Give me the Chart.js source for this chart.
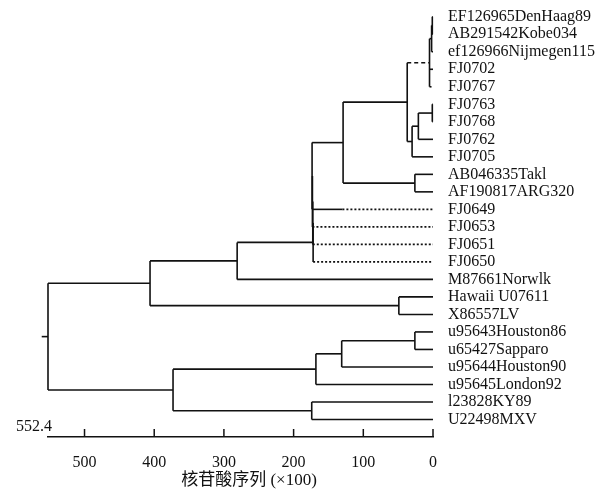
<!DOCTYPE html>
<html>
<head>
<meta charset="utf-8">
<script src="https://cdn.jsdelivr.net/npm/chart.js@4.4.0/dist/chart.umd.min.js"></script>
<style>
  html, body { margin: 0; padding: 0; background: #fff; }
  #wrap { width: 603px; height: 494px; }
</style>
</head>
<body>
<div id="wrap"><canvas id="tree"></canvas></div>
<script>
// leaf order, top to bottom
var leaves = [
  'EF126965DenHaag89', 'AB291542Kobe034', 'ef126966Nijmegen115', 'FJ0702', 'FJ0767',
  'FJ0763', 'FJ0768', 'FJ0762', 'FJ0705', 'AB046335Takl', 'AF190817ARG320',
  'FJ0649', 'FJ0653', 'FJ0651', 'FJ0650', 'M87661Norwlk', 'Hawaii U07611', 'X86557LV',
  'u95643Houston86', 'u65427Sapparo', 'u95644Houston90', 'u95645London92',
  'l23828KY89', 'U22498MXV'
];

// internal nodes: [name, distance (x100 nt), children]  (children listed before parents)
var nodes = [
  ['nA', 1, ['EF126965DenHaag89', 'AB291542Kobe034']],
  ['nB', 2, ['nA', 'ef126966Nijmegen115']],
  ['nC', 5, ['nB', 'FJ0702', 'FJ0767']],
  ['nD', 1, ['FJ0763', 'FJ0768']],
  ['nE', 21, ['nD', 'FJ0762']],
  ['nF', 30, ['nE', 'FJ0705']],
  ['nG', 37, ['nC', 'nF']],
  ['nH', 26, ['AB046335Takl', 'AF190817ARG320']],
  ['nI', 129, ['nG', 'nH']],
  ['nJ', 173.5, ['nI', 'FJ0649']],
  ['nK', 173, ['nJ', 'FJ0653']],
  ['nL', 172.5, ['nK', 'FJ0651']],
  ['nM', 172, ['nL', 'FJ0650']],
  ['nN', 281, ['nM', 'M87661Norwlk']],
  ['nO', 49, ['Hawaii U07611', 'X86557LV']],
  ['nP', 406, ['nN', 'nO']],
  ['nQ', 26, ['u95643Houston86', 'u65427Sapparo']],
  ['nR', 131, ['nQ', 'u95644Houston90']],
  ['nS', 168, ['nR', 'u95645London92']],
  ['nT', 174, ['l23828KY89', 'U22498MXV']],
  ['nU', 373, ['nS', 'nT']],
  ['root', 552.4, ['nP', 'nU']]
];

var dottedBranches = ['FJ0649', 'FJ0653', 'FJ0651', 'FJ0650', 'FJ0767'];
var dashedBranches = ['nC'];
var solidUntil = { 'FJ0649': 130 };   // FJ0649: solid first, then dotted

var xTicks = [0, 100, 200, 300, 400, 500];
var maxDist = 552.4;
var axisTitle = '\u3000核苷酸序列 (×100)';

// lay out the tree
var yOf = {}, dOf = {};
leaves.forEach(function(n, i) { yOf[n] = i; dOf[n] = 0; });
nodes.forEach(function(nd) {
  var ch = nd[2];
  dOf[nd[0]] = nd[1];
  yOf[nd[0]] = (yOf[ch[0]] + yOf[ch[ch.length - 1]]) / 2;
});

var datasets = [];
function seg(x1, y1, x2, y2, style) {
  var dash = [];
  if (style === 'dot') dash = [2, 2];
  if (style === 'dash') dash = [4, 3];
  datasets.push({
    data: [{ x: x1, y: y1 }, { x: x2, y: y2 }],
    showLine: true,
    borderColor: '#111',
    borderWidth: 1.6,
    borderDash: dash,
    pointRadius: 0,
    clip: false
  });
}

nodes.forEach(function(nd) {
  var d = nd[1], ch = nd[2];
  seg(d, yOf[ch[0]], d, yOf[ch[ch.length - 1]], 'solid');
  ch.forEach(function(c) {
    var style = 'solid';
    if (dottedBranches.indexOf(c) >= 0) style = 'dot';
    if (dashedBranches.indexOf(c) >= 0) style = 'dash';
    if (solidUntil[c] !== undefined) {
      seg(d, yOf[c], solidUntil[c], yOf[c], 'solid');
      seg(solidUntil[c], yOf[c], dOf[c], yOf[c], style);
    } else {
      seg(d, yOf[c], dOf[c], yOf[c], style);
    }
  });
});
// little stub on the root
seg(maxDist, yOf['root'], maxDist + 9, yOf['root'], 'solid');

// ticks pointing up into the plot, and the 552.4 label
var axisExtras = {
  id: 'axisExtras',
  afterDraw: function(chart) {
    var ctx = chart.ctx, xs = chart.scales.x, bottom = chart.chartArea.bottom;
    ctx.save();
    ctx.strokeStyle = '#111';
    ctx.lineWidth = 1.5;
    xTicks.forEach(function(v) {
      var px = xs.getPixelForValue(v);
      ctx.beginPath();
      ctx.moveTo(px, bottom);
      ctx.lineTo(px, bottom - 8);
      ctx.stroke();
    });
    ctx.fillStyle = '#111';
    ctx.font = '16px "Liberation Serif"';
    ctx.textAlign = 'center';
    ctx.textBaseline = 'middle';
    ctx.fillText(String(maxDist), xs.getPixelForValue(maxDist) - 14, bottom - 10);
    ctx.restore();
  }
};

new Chart(document.getElementById('tree'), {
  type: 'scatter',
  data: { datasets: datasets },
  options: {
    responsive: true,
    maintainAspectRatio: false,
    animation: false,
    layout: { padding: { left: 48, top: 8, right: 0, bottom: 0 } },
    plugins: { legend: { display: false }, tooltip: { enabled: false } },
    scales: {
      x: {
        type: 'linear',
        reverse: true,
        min: 0,
        max: maxDist,
        afterBuildTicks: function(s) { s.ticks = xTicks.map(function(v) { return { value: v }; }); },
        afterFit: function(s) { s.height = 57; },
        grid: { display: true, drawOnChartArea: false, drawTicks: false },
        border: { display: true, color: '#111', width: 1.5 },
        ticks: { color: '#111', padding: 16, autoSkip: false, maxRotation: 0, font: { family: 'Liberation Serif', size: 16 } },
        title: {
          display: true,
          text: axisTitle,
          color: '#111',
          padding: { top: 4, bottom: 3 },
          font: { family: '"Liberation Serif", "Noto Sans CJK SC"', size: 17 }
        }
      },
      y: {
        type: 'linear',
        position: 'right',
        reverse: true,
        min: -0.5,
        max: 24,
        afterBuildTicks: function(s) { s.ticks = leaves.map(function(n, i) { return { value: i }; }); },
        afterFit: function(s) { s.width = 170; s.paddingTop = 0; s.paddingBottom = 0; },
        grid: { display: false },
        border: { display: false },
        ticks: {
          color: '#111',
          padding: 7,
          autoSkip: false,
          font: { family: 'Liberation Serif', size: 16 },
          callback: function(v) { return leaves[v]; }
        }
      }
    }
  },
  plugins: [axisExtras]
});
</script>
</body>
</html>
